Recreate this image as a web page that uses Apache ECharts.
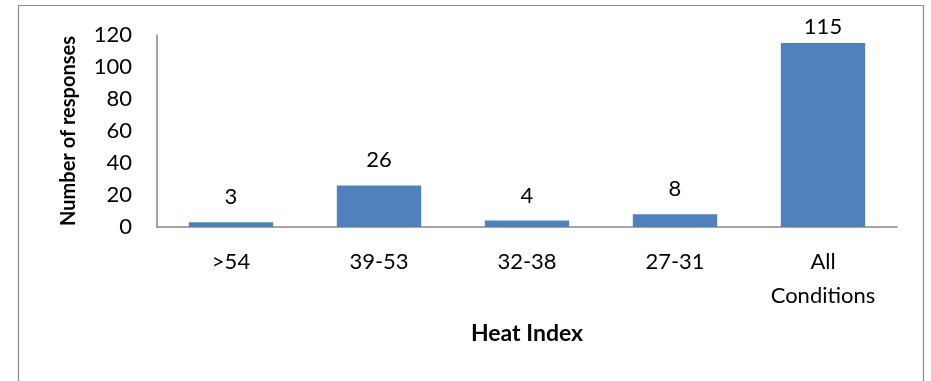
<!DOCTYPE html>
<html>
<head>
<meta charset="utf-8">
<script src="https://cdn.jsdelivr.net/npm/echarts@6/dist/echarts.min.js"></script>
<style>
  html, body { margin: 0; padding: 0; background: #fff; }
  #chart { width: 931px; height: 381px; }
</style>
</head>
<body>
<div id="chart"></div>
<script>
// Heat index bands and how many responses fell into each
const categories = ['>54', '39-53', '32-38', '27-31', 'All\nConditions'];
const responses = [3, 26, 4, 8, 115];
const yTicks = { min: 0, max: 120, interval: 20 };

const FONT = 'Lato, "Open Sans", sans-serif';
const SIZE = 22;

const chart = echarts.init(document.getElementById('chart'), null, { renderer: 'canvas' });

chart.setOption({
  animation: false,
  backgroundColor: '#ffffff',
  graphic: [{
    type: 'rect',
    shape: { x: 18.5, y: 5.5, width: 905, height: 420 },
    style: { fill: 'none', stroke: '#8c8c8c', lineWidth: 1.2 },
    silent: true
  }],
  grid: { left: 157, right: 34, top: 35, bottom: 154, containLabel: false },
  xAxis: {
    type: 'category',
    data: categories,
    name: 'Heat Index',
    nameLocation: 'middle',
    nameGap: 95,
    nameTextStyle: { fontFamily: FONT, fontSize: 23, fontWeight: 'bold', color: '#000' },
    axisLine: { lineStyle: { color: '#868686', width: 1.5 } },
    axisTick: { show: false },
    axisLabel: {
      fontFamily: FONT, fontSize: SIZE, color: '#000',
      margin: 18, lineHeight: 34
    }
  },
  yAxis: {
    type: 'value',
    min: yTicks.min,
    max: yTicks.max,
    interval: yTicks.interval,
    name: 'Number of responses',
    nameLocation: 'middle',
    nameGap: 78,
    nameTextStyle: { fontFamily: FONT, fontSize: 20, fontWeight: 'bold', color: '#000' },
    axisLine: { show: true, lineStyle: { color: '#868686', width: 1.5 } },
    axisTick: { show: false },
    splitLine: { show: false },
    axisLabel: { fontFamily: FONT, fontSize: SIZE, color: '#000', margin: 25 }
  },
  series: [{
    type: 'bar',
    data: responses.map((v, i) => i === responses.length - 1
      ? { value: v, label: { distance: 5 } }
      : v),
    barWidth: '57%',
    itemStyle: { color: '#4F81BD' },
    label: {
      show: true,
      position: 'top',
      distance: 14,
      fontFamily: FONT,
      fontSize: SIZE,
      color: '#000'
    }
  }]
});
</script>
</body>
</html>
